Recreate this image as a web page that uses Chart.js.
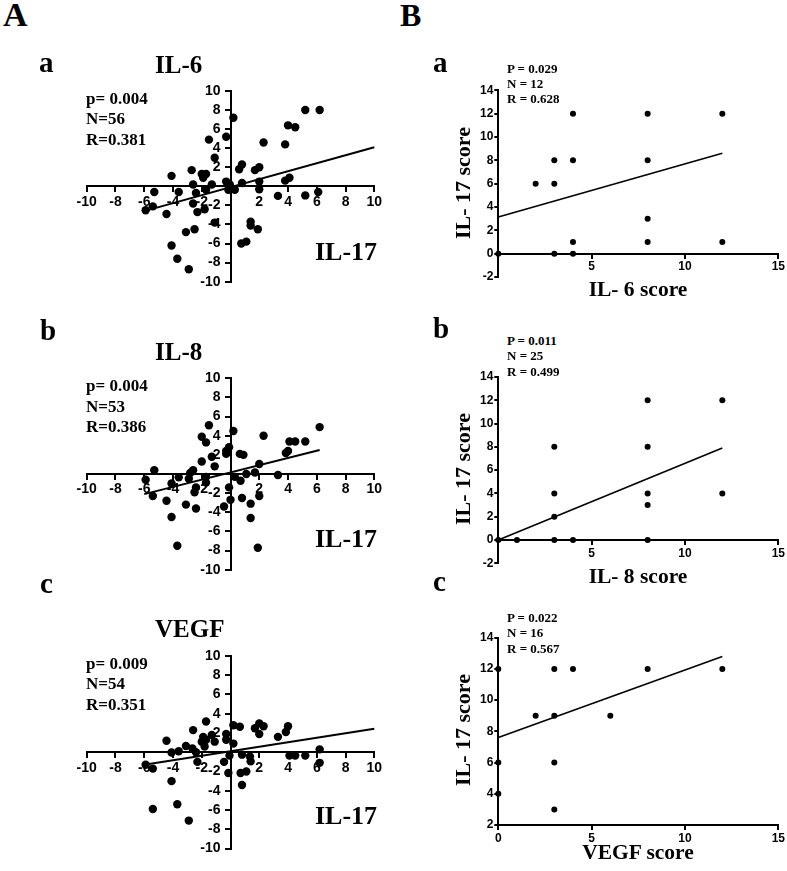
<!DOCTYPE html>
<html>
<head>
<meta charset="utf-8">
<script src="https://cdn.jsdelivr.net/npm/chart.js@4.4.0/dist/chart.umd.min.js"></script>
<style>
  html, body { margin: 0; padding: 0; background: #fff; }
  #page { position: relative; width: 787px; height: 871px; overflow: hidden; }
  canvas { position: absolute; }
  .t { position: absolute; font-family: "Liberation Serif", "Times New Roman", serif; font-weight: bold; color: #000; line-height: 1; white-space: pre; }
</style>
</head>
<body>
<div id="page"></div>
<script>
// ---- data ----
// A: change in IL-17 (x) against change in each marker (y)
const aX = [6.2,5.2,4.0,4.5,3.8,2.3,0.2,-0.3,-1.5,-1.1,0.8,0.6,2.0,1.7,-2.7,-2.0,-1.7,-1.9,-4.1,-2.6,-1.3,-0.3,-0.05,0.8,2.0,3.8,4.1,-5.3,-3.6,-2.4,-1.7,-0.15,0.3,2.0,3.3,5.2,6.1,-5.4,-5.9,-2.6,-2.3,-1.8,-4.45,-1.1,1.4,1.4,1.9,-2.5,-3.1,0.75,1.1,-4.1,-3.7,-2.9];
const aY = [8.0,8.0,6.4,6.2,4.4,4.6,7.2,5.2,4.9,3.0,2.3,1.8,2.0,1.7,1.7,1.3,1.3,0.9,1.1,0.2,0.2,0.5,0.2,0.35,0.5,0.6,0.9,-0.6,-0.6,-0.7,-0.35,-0.35,-0.35,-0.3,-1.0,-0.95,-0.6,-2.1,-2.5,-1.8,-2.7,-2.4,-2.9,-3.8,-3.7,-4.1,-4.5,-4.5,-4.8,-6.0,-5.8,-6.2,-7.6,-8.7];
const aFitX = [-6, 10], aFitY = [-2.6, 4.1];

const bX = [6.2,5.2,4.5,4.1,4.0,3.85,2.3,0.2,-1.5,-2.0,-1.7,-0.1,-0.3,-0.3,0.65,0.9,-1.3,-2.0,2.0,-1.1,-5.3,-2.6,-2.8,-1.7,-3.6,-2.9,-5.9,-4.1,-1.7,0.3,0.7,1.1,1.7,3.3,-0.1,-2.4,-2.5,-5.4,-4.45,0,0.8,1.4,2.0,-0.45,-3.1,-2.4,-4.1,1.4,-3.7,1.9];
const bY = [4.9,3.4,3.4,3.4,2.4,2.2,4.0,4.5,5.1,3.9,3.3,2.8,2.4,2.1,2.1,2.0,1.8,1.3,1.05,0.8,0.4,0.4,0.1,-0.3,-0.35,-0.5,-0.6,-1.0,-0.9,-0.3,-0.7,0,0.15,-0.1,-1.4,-1.4,-1.9,-2.3,-2.8,-2.7,-2.5,-3.1,-2.3,-3.4,-3.2,-3.6,-4.5,-4.6,-7.5,-7.7];
const bFitX = [-6, 6.2], bFitY = [-2.1, 2.5];

const cX = [6.2,6.2,5.2,4.5,4.1,4.0,3.85,3.3,2.3,2.0,2.0,1.7,0.2,0.65,-0.3,-0.3,0.2,-1.7,-2.6,-1.3,-1.9,-1.7,-1.1,-2.0,-1.8,-4.45,-3.1,-3.6,-4.1,-2.65,-2.4,-2.3,-0.07,0.8,1.35,1.4,-5.9,-5.4,-0.45,-0.15,0.7,1.1,0.8,-4.1,-3.7,-5.4,-2.9];
const cY = [0.3,-1.1,-0.35,-0.35,-0.35,2.7,2.1,1.6,2.7,3.0,1.9,2.5,2.8,2.65,1.9,1.3,0.9,3.2,2.3,1.8,1.6,1.3,1.1,1.1,0.6,1.2,0.65,0.1,-0.03,0.4,0,-1.0,-0.35,-0.25,-0.45,-0.95,-1.3,-1.7,-1.0,-2.15,-2.15,-2.0,-3.4,-3.0,-5.4,-5.9,-7.1];
const cFitX = [-6, 10], cFitY = [-1.3, 2.45];

// B: marker score (x) against IL-17 score (y)
const baX = [0,2,3,3,3,4,4,4,4,8,8,8,8,12,12];
const baY = [0,6,8,6,0,12,8,1,0,12,8,3,1,12,1];
const baFitX = [0, 12], baFitY = [3.15, 8.6];

const bbX = [0,1,3,3,3,3,4,8,8,8,8,8,12,12];
const bbY = [0,0,8,4,2,0,0,12,8,4,3,0,12,4];
const bbFitX = [0, 12], bbFitY = [0, 7.9];

const bcX = [0,0,0,2,3,3,3,3,4,6,8,12];
const bcY = [12,6,4,9,12,9,6,3,12,9,12,12];
const bcFitX = [0, 12], bcFitY = [7.6, 12.8];

const leftTicks = [-10, 10, 2];
const rightXTicks = [0, 15, 5];
const rightYTicks = [-2, 14, 2];
const rightYTicksC = [2, 14, 2];

// ---- helpers ----
const page = document.getElementById('page');
const tickFont = { family: '"Liberation Sans", Arial, sans-serif', weight: 'bold' };

function pts(xs, ys) {
  return xs.map((x, i) => ({ x: x, y: ys[i] }));
}

function axis(range, at, size, hideZero, tickLen, pad, fixedWidth) {
  const s = {
    type: 'linear',
    min: range[0],
    max: range[1],
    position: at,
    afterBuildTicks: (sc) => {
      sc.ticks = [];
      for (let v = range[0]; v <= range[1] + 1e-9; v += range[2]) sc.ticks.push({ value: v });
    },
    ticks: {
      color: '#000',
      font: Object.assign({ size: size }, tickFont),
      padding: pad,
      maxRotation: 0,
      autoSkip: false,
      callback: (v) => (hideZero && v === 0 ? '' : String(v))
    },
    grid: { drawOnChartArea: false, color: '#000', lineWidth: 2, tickLength: tickLen },
    border: { display: true, color: '#000', width: 2 }
  };
  if (fixedWidth) s.afterFit = (sc) => { sc.width = fixedWidth; };
  return s;
}

function makeChart(box, pad, scatter, fitX, fitY, radius, lineW, scales) {
  const cv = document.createElement('canvas');
  cv.width = box[2];
  cv.height = box[3];
  cv.style.left = box[0] + 'px';
  cv.style.top = box[1] + 'px';
  page.appendChild(cv);
  new Chart(cv, {
    type: 'scatter',
    data: {
      datasets: [
        {
          data: scatter,
          pointRadius: radius,
          pointBackgroundColor: '#000',
          pointBorderWidth: 0,
          clip: false
        },
        {
          data: pts(fitX, fitY),
          showLine: true,
          pointRadius: 0,
          borderColor: '#000',
          borderWidth: lineW,
          clip: false
        }
      ]
    },
    options: {
      responsive: false,
      animation: false,
      devicePixelRatio: 1,
      layout: { padding: pad },
      plugins: { legend: { display: false }, tooltip: { enabled: false } },
      scales: scales
    }
  });
}

function text(str, x, baseline, size, extra) {
  const d = document.createElement('div');
  d.className = 't';
  d.textContent = str;
  d.style.fontSize = size + 'px';
  d.style.left = x + 'px';
  d.style.top = (baseline - 0.84 * size) + 'px';
  if (extra) Object.assign(d.style, extra);
  page.appendChild(d);
}

function vtext(str, cx, cy, size) {
  const d = document.createElement('div');
  d.className = 't';
  d.textContent = str;
  d.style.fontSize = size + 'px';
  d.style.left = cx + 'px';
  d.style.top = cy + 'px';
  d.style.transform = 'translate(-50%, -50%) rotate(-90deg)';
  page.appendChild(d);
}

function ctext(str, cx, baseline, size) {
  text(str, cx, baseline, size, { transform: 'translateX(-50%)' });
}

// ---- left column: quadrant plots, axes crossing at 0 ----
function leftScales() {
  return {
    x: axis(leftTicks, { y: 0 }, 14, true, 5, 2),
    y: axis(leftTicks, 'center', 14, true, 5, 5)
  };
}
makeChart([40, 75, 360, 225], { left: 46.7, right: 25.7, top: 16, bottom: 18.3 }, pts(aX, aY), aFitX, aFitY, 4.2, 2, leftScales());
makeChart([40, 362, 360, 225], { left: 46.7, right: 25.7, top: 16.3, bottom: 17.3 }, pts(bX, bY), bFitX, bFitY, 4.2, 2, leftScales());
makeChart([40, 640, 360, 225], { left: 46.7, right: 25.7, top: 16, bottom: 16.5 }, pts(cX, cY), cFitX, cFitY, 4.2, 2, leftScales());

// ---- right column: score plots ----
makeChart([440, 75, 347, 215], { left: 28.3, right: 7.7, top: 15.3, bottom: 13 }, pts(baX, baY), baFitX, baFitY, 3, 1.6, {
  x: axis(rightXTicks, { y: 0 }, 12, true, 4, 2),
  y: axis(rightYTicks, 'left', 12, false, 4, 1, 30)
});
makeChart([440, 362, 347, 215], { left: 28.3, right: 7.7, top: 15, bottom: 13.7 }, pts(bbX, bbY), bbFitX, bbFitY, 3, 1.6, {
  x: axis(rightXTicks, { y: 0 }, 12, true, 4, 2),
  y: axis(rightYTicks, 'left', 12, false, 4, 1, 30)
});
makeChart([440, 622, 347, 230], { left: 28.3, right: 7.7, top: 15.7, bottom: 27 }, pts(bcX, bcY), bcFitX, bcFitY, 3, 1.6, {
  x: axis(rightXTicks, { y: 2 }, 12, false, 4, 2),
  y: axis(rightYTicksC, 'left', 12, false, 4, 1, 30)
});

// ---- text ----
text('A', 3, 26.7, 34);
text('B', 400, 26, 32);

text('a', 39, 72.7, 29);
text('b', 40, 340, 29);
text('c', 40, 593, 29);
text('a', 433, 72.7, 29);
text('b', 433, 338, 29);
text('c', 433, 591, 29);

text('IL-6', 155, 73, 25);
text('IL-8', 155, 360, 25);
text('VEGF', 155, 637, 25);

const leftStats = [
  ['p= 0.004', 'N=56', 'R=0.381', 91],
  ['p= 0.004', 'N=53', 'R=0.386', 378.3],
  ['p= 0.009', 'N=54', 'R=0.351', 656]
];
leftStats.forEach((s) => {
  text(s[0], 86, s[3] + 13.3, 17);
  text(s[1], 86, s[3] + 33.5, 17);
  text(s[2], 86, s[3] + 54, 17);
});

text('IL-17', 315, 260.7, 26);
text('IL-17', 315, 547.7, 26);
text('IL-17', 315, 825, 26);

const rightStats = [
  ['P = 0.029', 'N = 12', 'R = 0.628', 72.5],
  ['P = 0.011', 'N = 25', 'R = 0.499', 345],
  ['P = 0.022', 'N = 16', 'R = 0.567', 622]
];
rightStats.forEach((s) => {
  text(s[0], 507, s[3], 13);
  text(s[1], 507, s[3] + 15.3, 13);
  text(s[2], 507, s[3] + 30.6, 13);
});

vtext('IL- 17 score', 463, 183, 22);
vtext('IL- 17 score', 463, 469, 22);
vtext('IL- 17 score', 463, 730, 22);

ctext('IL- 6 score', 638, 297.3, 21.5);
ctext('IL- 8 score', 638, 584, 21.5);
ctext('VEGF score', 638, 860, 21.5);
</script>
</body>
</html>
